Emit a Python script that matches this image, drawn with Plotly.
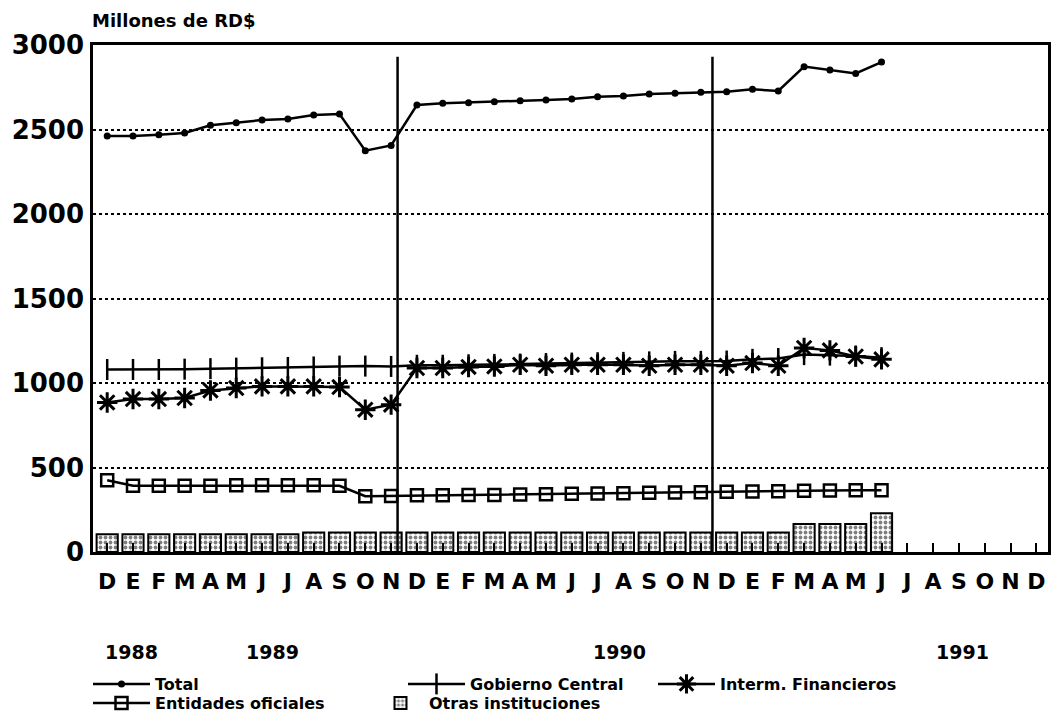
import plotly.graph_objects as go

months = ["D", "E", "F", "M", "A", "M", "J", "J", "A", "S", "O", "N",
          "D", "E", "F", "M", "A", "M", "J", "J", "A", "S", "O", "N",
          "D", "E", "F", "M", "A", "M", "J", "J", "A", "S", "O", "N", "D"]

total = [2461, 2461, 2469, 2479, 2525, 2540, 2556, 2562, 2586, 2592, 2375, 2406,
         2645, 2655, 2659, 2664, 2670, 2675, 2680, 2694, 2698, 2710, 2714, 2720,
         2724, 2738, 2728, 2872, 2852, 2832, 2899]

gobierno = [1080, 1080, 1080, 1082, 1085, 1088, 1090, 1092, 1095, 1100, 1100, 1098,
            1105, 1105, 1108, 1110, 1112, 1115, 1118, 1120, 1122, 1125, 1128, 1128,
            1130, 1140, 1145, 1168, 1165, 1160, 1150]

interm = [885, 905, 905, 911, 956, 970, 980, 980, 980, 976, 842, 872,
          1089, 1089, 1095, 1098, 1108, 1102, 1108, 1108, 1108, 1102, 1108, 1108,
          1102, 1118, 1102, 1207, 1193, 1157, 1140]

entidades = [425, 392, 392, 392, 392, 395, 395, 395, 395, 392, 330, 332,
             336, 336, 338, 338, 340, 342, 344, 346, 348, 350, 352, 354,
             356, 358, 360, 362, 364, 365, 365]

otras = [105, 105, 105, 105, 105, 105, 105, 105, 115, 115, 115, 115,
         115, 115, 115, 115, 115, 115, 115, 115, 115, 115, 115, 115,
         115, 115, 115, 165, 165, 165, 230]

year_labels = ["1988", "1989", "1990", "1991"]
year_pos = [0.95, 6.4, 19.85, 33.15]
year_breaks = [11.25, 23.45]

x_months = list(range(len(months)))
x_data = list(range(len(total)))

FONT = "DejaVu Sans"
W, H = 1051, 715
ML, MR, MT, MB = 93, 3, 45, 163
pw, ph = W - ML - MR, H - MT - MB

LEG_FONT = dict(family=FONT, size=16, color="black", weight="bold")


def legend_box(px, py, iw=57):
    return dict(xref="container", yref="container", x=px / W, y=1 - py / H,
                xanchor="left", yanchor="middle", orientation="h",
                font=LEG_FONT, bgcolor="rgba(0,0,0,0)", itemwidth=iw,
                borderwidth=0)


fig = go.Figure()

fig.add_trace(go.Bar(
    x=x_data, y=otras, name="Otras instituciones", width=0.82,
    marker=dict(color="white", line=dict(color="black", width=2),
                pattern=dict(shape=".", fgcolor="black", bgcolor="white",
                             size=5, solidity=0.45)),
    legend="legend5",
))
fig.add_trace(go.Scatter(
    x=x_data, y=entidades, name="Entidades oficiales", mode="lines+markers",
    line=dict(color="black", width=2.5),
    marker=dict(symbol="square-open", size=12, color="black", line=dict(width=2.5)),
    legend="legend4",
))
fig.add_trace(go.Scatter(
    x=x_data, y=interm, name="Interm. Financieros", mode="lines+markers",
    line=dict(color="black", width=2.5),
    marker=dict(symbol="asterisk-open", size=17, color="black", line=dict(width=3)),
    legend="legend3",
))
fig.add_trace(go.Scatter(
    x=x_data, y=gobierno, name="Gobierno Central", mode="lines+markers",
    line=dict(color="black", width=2.5),
    marker=dict(symbol="line-ns-open", size=15, color="black", line=dict(width=2.5)),
    legend="legend2",
))
fig.add_trace(go.Scatter(
    x=x_data, y=total, name="Total", mode="lines+markers",
    line=dict(color="black", width=2.5),
    marker=dict(symbol="circle", size=7, color="black"),
    legend="legend",
))

for xb in year_breaks:
    fig.add_shape(type="line", x0=xb, x1=xb, y0=0, y1=2930, xref="x", yref="y",
                  line=dict(color="black", width=2.5))

for lab, xp in zip(year_labels, year_pos):
    fig.add_annotation(x=xp, y=(H - MB - 652) / ph, xref="x", yref="paper",
                       yanchor="middle", text=lab, showarrow=False,
                       font=dict(family=FONT, size=19, color="black", weight="bold"))

fig.add_annotation(x=(90 - ML) / pw, y=(H - MB - 21) / ph, xref="paper", yref="paper",
                   text="Millones de RD$", showarrow=False, xanchor="left",
                   yanchor="middle",
                   font=dict(family=FONT, size=18, color="black", weight="bold"))

fig.update_layout(
    width=W, height=H,
    margin=dict(l=ML, r=MR, t=MT, b=MB, autoexpand=False),
    paper_bgcolor="white", plot_bgcolor="white",
    font=dict(family=FONT, color="black"),
    barmode="overlay",
    showlegend=True,
    legend=legend_box(88, 684),
    legend2=legend_box(403, 684),
    legend3=legend_box(653, 684),
    legend4=legend_box(88, 703),
    legend5=legend_box(372, 703, iw=47),
    xaxis=dict(range=[-0.55, 36.45], tickmode="array", tickvals=x_months,
               ticktext=months, ticks="inside", ticklen=9, tickwidth=2,
               tickcolor="black", showline=True, linecolor="black", linewidth=2.5,
               mirror=True, showgrid=False, zeroline=False,
               ticklabelstandoff=8,
               tickfont=dict(family=FONT, size=22, color="black", weight="bold")),
    yaxis=dict(range=[0, 3000], tickmode="array",
               tickvals=[0, 500, 1000, 1500, 2000, 2500, 3000],
               showline=True, linecolor="black", linewidth=2.5, mirror=True,
               showgrid=True, gridcolor="black", griddash="dot", gridwidth=1.5,
               zeroline=False, ticks="", ticklabelstandoff=1,
               tickfont=dict(family=FONT, size=26, color="black", weight="bold")),
)

fig.write_html("out.html", config={"displayModeBar": False},
               post_script="document.body.style.margin='0px';")
